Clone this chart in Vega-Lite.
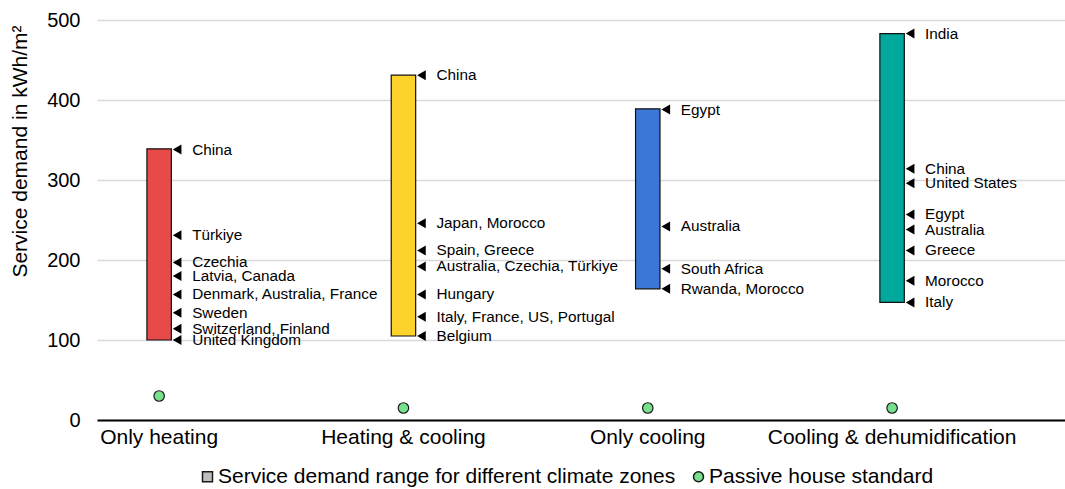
{
  "$schema": "https://vega.github.io/schema/vega-lite/v6.json",
  "width": 968,
  "height": 400,
  "autosize": {"type": "none"},
  "padding": {"left": 97, "top": 20, "right": 0, "bottom": 69},
  "background": "white",
  "config": {
    "view": {"stroke": null},
    "font": "Liberation Sans",
    "axis": {"labelFont": "Liberation Sans", "titleFont": "Liberation Sans", "labelColor": "#000", "titleColor": "#000", "labelLimit": 0},
    "legend": {"labelFont": "Liberation Sans", "labelColor": "#000", "labelLimit": 0}
  },
  "datasets": {
    "ranges": [
      {"cat": "Only heating", "low": 100, "high": 339},
      {"cat": "Heating & cooling", "low": 105, "high": 431},
      {"cat": "Only cooling", "low": 164, "high": 389},
      {"cat": "Cooling & dehumidification", "low": 147, "high": 483}
    ],
    "labels": [
      {"cat": "Only heating", "v": 338, "label": "China"},
      {"cat": "Only heating", "v": 231, "label": "Türkiye"},
      {"cat": "Only heating", "v": 197, "label": "Czechia"},
      {"cat": "Only heating", "v": 180, "label": "Latvia, Canada"},
      {"cat": "Only heating", "v": 157, "label": "Denmark, Australia, France"},
      {"cat": "Only heating", "v": 134, "label": "Sweden"},
      {"cat": "Only heating", "v": 114, "label": "Switzerland, Finland"},
      {"cat": "Only heating", "v": 100, "label": "United Kingdom"},
      {"cat": "Heating & cooling", "v": 431, "label": "China"},
      {"cat": "Heating & cooling", "v": 246, "label": "Japan, Morocco"},
      {"cat": "Heating & cooling", "v": 212, "label": "Spain, Greece"},
      {"cat": "Heating & cooling", "v": 192, "label": "Australia, Czechia, Türkiye"},
      {"cat": "Heating & cooling", "v": 157, "label": "Hungary"},
      {"cat": "Heating & cooling", "v": 129, "label": "Italy, France, US, Portugal"},
      {"cat": "Heating & cooling", "v": 105, "label": "Belgium"},
      {"cat": "Only cooling", "v": 388, "label": "Egypt"},
      {"cat": "Only cooling", "v": 242, "label": "Australia"},
      {"cat": "Only cooling", "v": 189, "label": "South Africa"},
      {"cat": "Only cooling", "v": 164, "label": "Rwanda, Morocco"},
      {"cat": "Cooling & dehumidification", "v": 483, "label": "India"},
      {"cat": "Cooling & dehumidification", "v": 314, "label": "China"},
      {"cat": "Cooling & dehumidification", "v": 296, "label": "United States"},
      {"cat": "Cooling & dehumidification", "v": 257, "label": "Egypt"},
      {"cat": "Cooling & dehumidification", "v": 238, "label": "Australia"},
      {"cat": "Cooling & dehumidification", "v": 212, "label": "Greece"},
      {"cat": "Cooling & dehumidification", "v": 174, "label": "Morocco"},
      {"cat": "Cooling & dehumidification", "v": 147, "label": "Italy"}
    ],
    "passive": [
      {"cat": "Only heating", "v": 30, "series": "Passive house standard"},
      {"cat": "Heating & cooling", "v": 15, "series": "Passive house standard"},
      {"cat": "Only cooling", "v": 15, "series": "Passive house standard"},
      {"cat": "Cooling & dehumidification", "v": 15, "series": "Passive house standard"}
    ]
  },
  "layer": [
    {
      "data": {"name": "ranges"},
      "mark": {"type": "bar", "stroke": "#111", "strokeWidth": 1.2},
      "encoding": {
        "x": {
          "field": "cat", "type": "nominal", "sort": null,
          "scale": {"type": "band", "paddingInner": 0.9, "paddingOuter": 0.431, "align": 0.237},
          "axis": {"title": null, "labelAngle": 0, "labelFontSize": 21, "labelPadding": 6, "ticks": false, "domainColor": "#000", "domainWidth": 2, "grid": false}
        },
        "y": {
          "field": "low", "type": "quantitative",
          "scale": {"domain": [0, 500], "nice": false},
          "axis": {"title": "Service demand in kWh/m²", "titleFontSize": 21, "titleFontWeight": "normal", "titleAnchor": "end", "titleY": 5, "titlePadding": 16, "values": [0, 100, 200, 300, 400, 500], "labelFontSize": 20, "labelPadding": 17, "ticks": false, "domain": false, "grid": true, "gridColor": "#d9d9d9", "gridWidth": 1.5}
        },
        "y2": {"field": "high"},
        "color": {
          "field": "cat", "type": "nominal",
          "scale": {"domain": ["Only heating", "Heating & cooling", "Only cooling", "Cooling & dehumidification"], "range": ["#e84a4a", "#fdd22b", "#3a77d6", "#00a99c"]},
          "legend": null
        }
      }
    },
    {
      "data": {"name": "labels"},
      "mark": {"type": "point", "shape": "triangle-left", "filled": true, "color": "#000", "opacity": 1, "size": 100, "xOffset": 18},
      "encoding": {
        "x": {"field": "cat", "type": "nominal", "sort": null},
        "y": {"field": "v", "type": "quantitative"}
      }
    },
    {
      "data": {"name": "labels"},
      "mark": {"type": "text", "align": "left", "baseline": "middle", "dx": 33, "fontSize": 15.3, "color": "#000"},
      "encoding": {
        "x": {"field": "cat", "type": "nominal", "sort": null},
        "y": {"field": "v", "type": "quantitative"},
        "text": {"field": "label"}
      }
    },
    {
      "data": {"name": "passive"},
      "mark": {"type": "point", "filled": true, "opacity": 1, "size": 110, "stroke": "#1a1a1a", "strokeWidth": 1.2},
      "encoding": {
        "x": {"field": "cat", "type": "nominal", "sort": null},
        "y": {"field": "v", "type": "quantitative"},
        "fill": {
          "field": "series", "type": "nominal",
          "scale": {"domain": ["Service demand range for different climate zones", "Passive house standard"], "range": ["#bfbfbf", "#77e08c"]},
          "legend": {"title": null, "orient": "none", "legendX": 100, "legendY": 446, "direction": "horizontal", "labelFontSize": 21, "symbolSize": 100, "columnPadding": 12, "labelOffset": 0,
            "encode": {"symbols": {"update": {"stroke": {"value": "#222"}, "strokeWidth": {"value": 1.2}, "opacity": {"value": 1}}}}}
        },
        "shape": {
          "field": "series", "type": "nominal",
          "scale": {"domain": ["Service demand range for different climate zones", "Passive house standard"], "range": ["square", "circle"]},
          "legend": {"title": null, "orient": "none", "legendX": 100, "legendY": 446, "direction": "horizontal", "labelFontSize": 21, "symbolSize": 100, "columnPadding": 12, "labelOffset": 0,
            "encode": {"symbols": {"update": {"stroke": {"value": "#222"}, "strokeWidth": {"value": 1.2}, "opacity": {"value": 1}}}}}
        }
      }
    }
  ]
}
